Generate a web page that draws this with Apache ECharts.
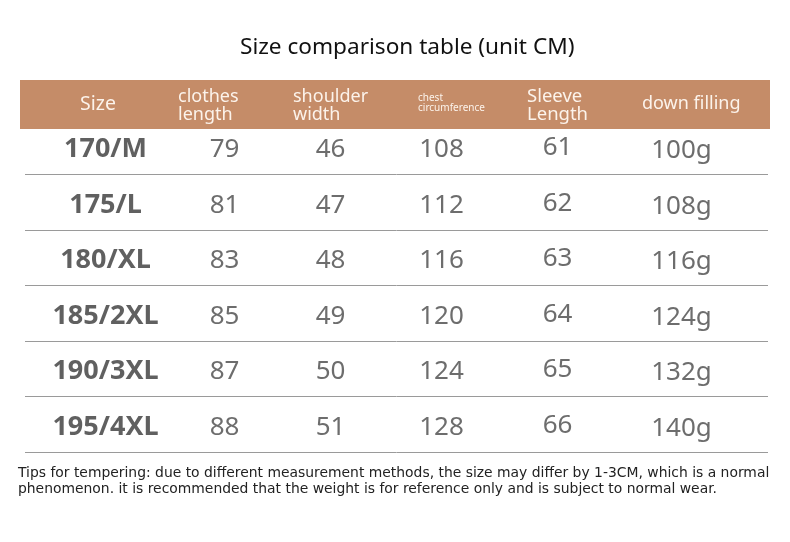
<!DOCTYPE html>
<html>
<head>
<meta charset="utf-8">
<script src="https://cdn.jsdelivr.net/npm/echarts@6/dist/echarts.min.js"></script>
<style>
html,body{margin:0;padding:0;background:#fff;}
#main{width:790px;height:542px;}
</style>
</head>
<body>
<div id="main"></div>
<script>
var titleText = 'Size comparison table (unit CM)';
var headers = ['Size', 'clothes\nlength', 'shoulder\nwidth', 'chest\ncircumference', 'Sleeve\nLength', 'down filling'];
var sizes = ['170/M', '175/L', '180/XL', '185/2XL', '190/3XL', '195/4XL'];
var clothesLength = [79, 81, 83, 85, 87, 88];
var shoulderWidth = [46, 47, 48, 49, 50, 51];
var chestCircumference = [108, 112, 116, 120, 124, 128];
var sleeveLength = [61, 62, 63, 64, 65, 66];
var downFilling = ['100g', '108g', '116g', '124g', '132g', '140g'];
var tipsText = 'Tips for tempering: due to different measurement methods, the size may differ by 1-3CM, which is a normal\nphenomenon. it is recommended that the weight is for reference only and is subject to normal wear.';

var FONT = '"Noto Sans", "Open Sans", sans-serif';
var columns = [sizes, clothesLength, shoulderWidth, chestCircumference, sleeveLength, downFilling];
var colIdx = [0, 1, 2, 3, 4, 5];
var colOffsets = [1, 5, -4, -8, -7, 2];
var colDy = [3, 3, 3, 3, 1, 4];

var chart = echarts.init(document.getElementById('main'));

var series = columns.map(function (col, c) {
  return {
    type: 'scatter',
    xAxisIndex: 1,
    yAxisIndex: 1,
    symbolSize: 0,
    silent: true,
    data: col.map(function (v, r) { return { value: [c, r], name: String(v) }; }),
    label: {
      show: true,
      position: 'inside',
      offset: [colOffsets[c], colDy[c]],
      formatter: function (p) { return p.name; },
      fontFamily: FONT,
      fontSize: c === 0 ? 27 : 26,
      fontWeight: c === 0 ? 'bold' : 'normal',
      color: c === 0 ? '#383838' : '#484848'
    }
  };
});

var headerGraphics = [
  { type: 'rect', z: 100, shape: { x: 20, y: 80, width: 750, height: 49 }, style: { fill: '#C58C68' } }
];
var headerPos = [
  { x: 80, y: 104, size: 19.5 },
  { x: 178, y: 106, size: 18 },
  { x: 293, y: 106, size: 18 },
  { x: 418, y: 103, size: 10 },
  { x: 527, y: 106, size: 18.5 },
  { x: 642, y: 104, size: 18 }
];
headers.forEach(function (h, i) {
  var p = headerPos[i];
  headerGraphics.push({
    type: 'text', z: 101, x: p.x, y: p.y,
    style: {
      text: h, fill: '#FCF3EB', fontFamily: FONT, fontSize: p.size,
      lineHeight: p.size < 12 ? 10 : 18,
      textAlign: 'left', textVerticalAlign: 'middle'
    }
  });
});
headerGraphics.push({
  type: 'text', x: 18, y: 481,
  style: {
    text: tipsText, fill: '#222', fontFamily: '"DejaVu Sans", sans-serif', fontSize: 13.9,
    lineHeight: 16, textAlign: 'left', textVerticalAlign: 'middle'
  }
});

chart.setOption({
  backgroundColor: '#fff',
  animation: false,
  title: {
    text: titleText,
    left: 235,
    top: 31,
    textStyle: { fontFamily: FONT, fontSize: 22.6, fontWeight: 'normal', color: '#111' }
  },
  grid: [
    { left: 25, right: 22, top: 119, height: 333 },
    { left: 47, width: 690, top: 119, height: 333 }
  ],
  xAxis: [
    { gridIndex: 0, type: 'value', show: false, min: 0, max: 1 },
    { gridIndex: 1, type: 'category', data: colIdx, show: false }
  ],
  yAxis: [
    {
      gridIndex: 0, type: 'category', data: sizes, inverse: true,
      axisLine: { show: false }, axisTick: { show: false }, axisLabel: { show: false },
      splitLine: { show: true, lineStyle: { color: '#9a9a9a', width: 1 } }
    },
    { gridIndex: 1, type: 'category', data: sizes, inverse: true, show: false }
  ],
  graphic: headerGraphics,
  series: series
});
</script>
</body>
</html>
